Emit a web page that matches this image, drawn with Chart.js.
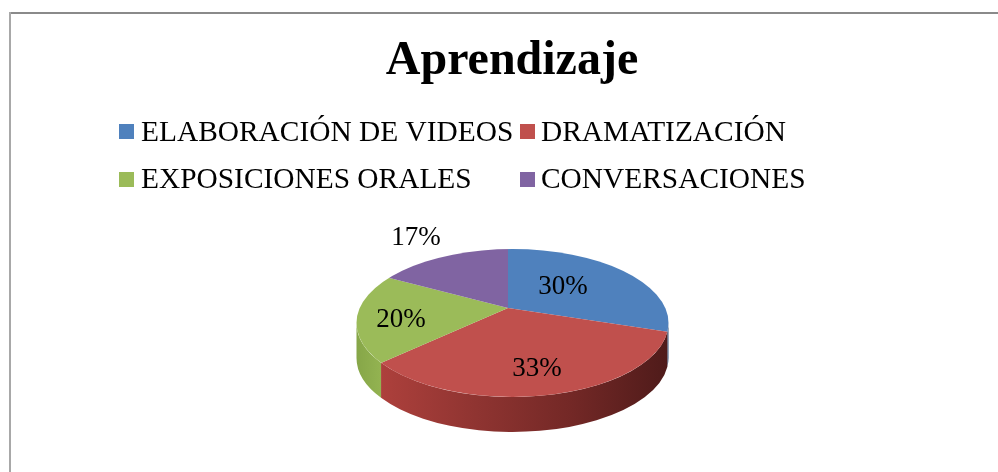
<!DOCTYPE html>
<html lang="es">
<head>
<meta charset="utf-8">
<title>Aprendizaje</title>
<style>
html,body{margin:0;padding:0;background:#fff}
canvas{display:block;filter:blur(.4px)}
</style>
<script src="https://cdn.jsdelivr.net/npm/chart.js@4"></script>
</head>
<body>
<canvas id="c" width="998" height="472"></canvas>
<script>
const titleText = 'Aprendizaje';
const categories = ['ELABORACIÓN DE VIDEOS', 'DRAMATIZACIÓN', 'EXPOSICIONES ORALES', 'CONVERSACIONES'];
const values = [30, 33, 20, 17];
const faceColors = ['#4f81bd', '#c0504d', '#9bbb59', '#8064a2'];
const wallStops = [
  ['#3a6190', '#2e4e75'],
  ['#ad403c', '#8f3431', '#732826', '#4f1b1a'],
  ['#86a648', '#93b351'],
  ['#5f4a7a', '#4c3a62']
];
const SERIF = '"Liberation Serif", "Times New Roman", serif';

// legend layout: [marker x, text x, marker top, baseline] per category
const legendBoxes = [[119, 141, 124, 141], [520, 541, 124, 141], [119, 141, 172, 188], [520, 541, 172, 188]];
// data label centres
const labelPos = [[563, 287], [537, 369], [401, 320], [416, 238]];

// projected top face of the pie
const apex = {x: 508, y: 308};
const squash = 0.46;
const face = {cx: 512.5, cy: 323, rx: 156, ry: 74, depth: 35};

function rimPhi(angle) {
  const dx = Math.cos(angle), dy = squash * Math.sin(angle);
  const ox = (apex.x - face.cx) / face.rx, oy = (apex.y - face.cy) / face.ry;
  const ux = dx / face.rx, uy = dy / face.ry;
  const a = ux * ux + uy * uy, b = 2 * (ox * ux + oy * uy), c = ox * ox + oy * oy - 1;
  const t = (-b + Math.sqrt(b * b - 4 * a * c)) / (2 * a);
  return Math.atan2(oy + t * uy, ox + t * ux);
}

const pie3d = {
  id: 'pie3d',
  beforeDraw(chart) {
    const ctx = chart.ctx;
    ctx.save();
    ctx.fillStyle = '#fff';
    ctx.fillRect(0, 0, chart.width, chart.height);
    ctx.fillStyle = '#8a8a8a';
    ctx.fillRect(9, 12, chart.width - 9, 2);
    ctx.fillStyle = '#a8a8a8';
    ctx.fillRect(9, 12, 2, chart.height - 12);
    ctx.restore();
  },
  beforeDatasetsDraw(chart) {
    const ctx = chart.ctx, arcs = chart.getDatasetMeta(0).data;
    // side wall
    arcs.forEach((arc, i) => {
      let p0 = rimPhi(arc.startAngle), p1 = rimPhi(arc.endAngle);
      if (p0 < -Math.PI / 2 - 0.2) p0 += 2 * Math.PI;
      while (p1 <= p0) p1 += 2 * Math.PI;
      const s = Math.max(p0, 0), e = Math.min(p1, Math.PI);
      if (s >= e) return;
      const xa = face.cx + face.rx * Math.cos(e), xb = face.cx + face.rx * Math.cos(s);
      const g = ctx.createLinearGradient(xa, 0, xb, 0);
      wallStops[i].forEach((c, n, all) => g.addColorStop(n / (all.length - 1), c));
      ctx.beginPath();
      ctx.ellipse(face.cx, face.cy, face.rx, face.ry, 0, s, e);
      ctx.ellipse(face.cx, face.cy + face.depth, face.rx, face.ry, 0, e, s, true);
      ctx.closePath();
      ctx.fillStyle = g;
      ctx.fill();
    });
    // top face: library arcs, squashed about the apex and cut by the rim
    ctx.save();
    ctx.beginPath();
    ctx.ellipse(face.cx, face.cy, face.rx, face.ry, 0, 0, 2 * Math.PI);
    ctx.clip();
    const a0 = arcs[0];
    ctx.translate(apex.x, apex.y);
    ctx.scale(1, squash);
    ctx.translate(-a0.x, -a0.y);
  },
  afterDatasetsDraw(chart) {
    const ctx = chart.ctx;
    ctx.restore();
    ctx.fillStyle = '#000';
    ctx.textBaseline = 'middle';
    ctx.textAlign = 'center';
    ctx.font = '27px ' + SERIF;
    values.forEach((v, i) => ctx.fillText(v + '%', labelPos[i][0], labelPos[i][1]));
    // legend
    ctx.textAlign = 'left';
    ctx.textBaseline = 'alphabetic';
    ctx.font = '29.4px ' + SERIF;
    categories.forEach((name, i) => {
      const [mx, tx, my, by] = legendBoxes[i];
      ctx.fillStyle = faceColors[i];
      ctx.fillRect(mx, my, 15, 15);
      ctx.fillStyle = '#000';
      ctx.fillText(name, tx, by);
    });
  }
};

new Chart(document.getElementById('c'), {
  type: 'pie',
  data: {
    labels: categories,
    datasets: [{
      data: values,
      backgroundColor: faceColors,
      borderWidth: 0,
      radius: 600,
      clip: false
    }]
  },
  options: {
    responsive: false,
    animation: false,
    layout: {padding: {left: 26, top: 14}},
    plugins: {
      legend: {display: false},
      tooltip: {enabled: false},
      title: {
        display: true,
        text: titleText,
        color: '#000',
        font: {family: SERIF, size: 48, weight: 'bold'},
        padding: {top: 19, bottom: 10}
      }
    }
  },
  plugins: [pie3d]
});
</script>
</body>
</html>
